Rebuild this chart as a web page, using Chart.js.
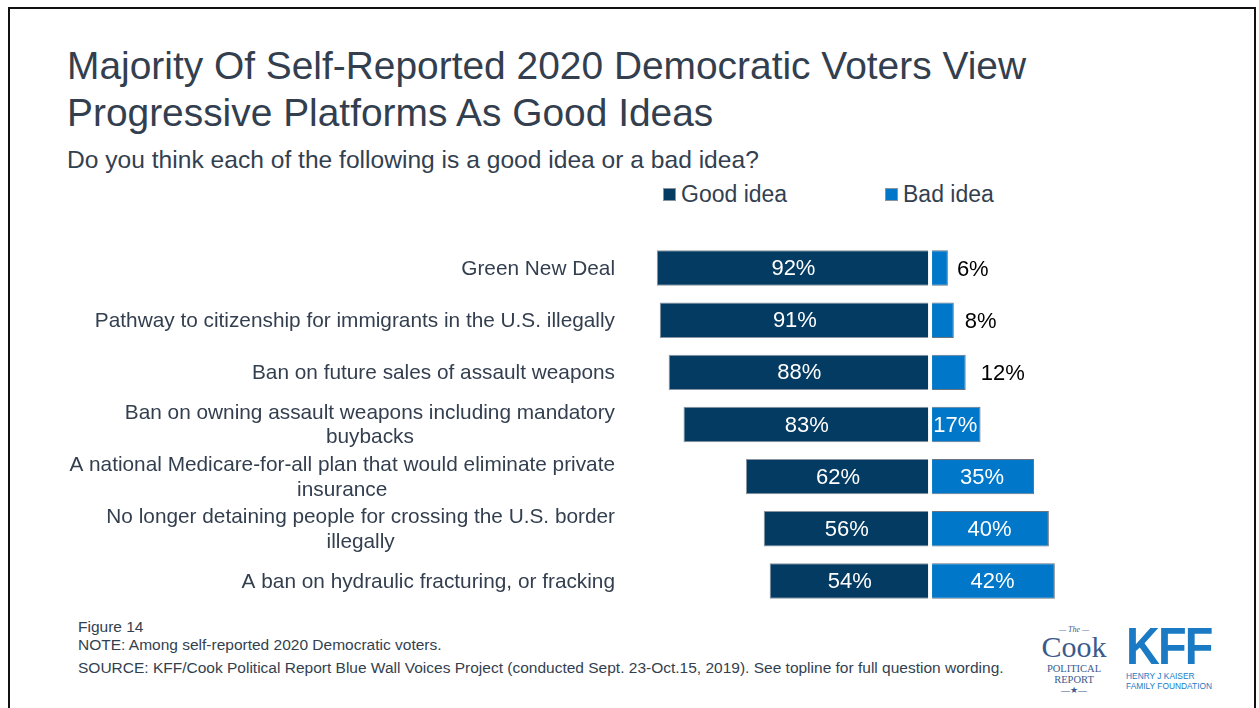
<!DOCTYPE html>
<html>
<head>
<meta charset="utf-8">
<script src="https://cdn.jsdelivr.net/npm/chart.js@4"></script>
<style>
  body { margin: 0; width: 1259px; height: 708px; background: #fff; overflow: hidden; font-family: "Liberation Sans", Arial, sans-serif; color: #333f4f; }
  .frame { position: absolute; left: 8px; top: 7px; width: 1248px; height: 760px; border: 2px solid #111; box-sizing: border-box; }
  .abs { position: absolute; white-space: nowrap; }
  #title { left: 67px; top: 42px; font-size: 38.9px; line-height: 47px; }
  #subtitle { left: 67px; top: 146px; font-size: 24.6px; }
  .legend { top: 181px; font-size: 23px; color: #333f4f; }
  .legend i { display: inline-block; width: 13px; height: 13px; margin-right: 5px; vertical-align: 1px; border: 1px solid #8a94a0; box-sizing: border-box; }
  .foot { left: 78px; font-size: 15.5px; color: #333f4f; }
  #cook { left: 1036px; top: 626px; width: 76px; text-align: center; color: #3d5a8c; font-family: "Liberation Serif", serif; }
  #kff { left: 1126px; top: 624px; color: #1a7bc4; }
  canvas { position: absolute; left: 0; top: 0; }
</style>
</head>
<body>
<div class="frame"></div>
<div class="abs" id="title">Majority Of Self-Reported 2020 Democratic Voters View<br>Progressive Platforms As Good Ideas</div>
<div class="abs" id="subtitle">Do you think each of the following is a good idea or a bad idea?</div>
<div class="abs legend" style="left:663px"><i style="background:#043b62"></i>Good idea</div>
<div class="abs legend" style="left:885px"><i style="background:#0077c8"></i>Bad idea</div>

<div class="abs foot" style="top:618px">Figure 14</div>
<div class="abs foot" style="top:636px">NOTE: Among self-reported 2020 Democratic voters.</div>
<div class="abs foot" style="top:659px">SOURCE: KFF/Cook Political Report Blue Wall Voices Project (conducted Sept. 23-Oct.15, 2019). See topline for full question wording.</div>

<div class="abs" id="cook">
  <div style="font-size:8px;font-style:italic;line-height:8px">&mdash; The &mdash;</div>
  <div style="font-size:30px;line-height:26px">Cook</div>
  <div style="font-size:10.5px;line-height:11px;margin-top:3px">POLITICAL</div>
  <div style="font-size:10.5px;line-height:11px">REPORT</div>
  <div style="font-size:9px;line-height:10px">&mdash;&#9733;&mdash;</div>
</div>
<div class="abs" id="kff">
  <div style="font-size:52px;font-weight:bold;line-height:44px;letter-spacing:-2px;transform:scaleX(0.9);transform-origin:left">KFF</div>
  <div style="font-size:9px;line-height:10px;margin-top:3px;transform:scaleX(0.93);transform-origin:left">HENRY J KAISER</div>
  <div style="font-size:9px;line-height:10px;transform:scaleX(0.93);transform-origin:left">FAMILY FOUNDATION</div>
</div>

<canvas id="chart" width="1259" height="708"></canvas>
<script>
// データ
const categories = [
  ["Green New Deal"],
  ["Pathway to citizenship for immigrants in the U.S. illegally"],
  ["Ban on future sales of assault weapons"],
  ["Ban on owning assault weapons including mandatory", "buybacks"],
  ["A national Medicare-for-all plan that would eliminate private", "insurance"],
  ["No longer detaining people for crossing the U.S. border", "illegally"],
  ["A ban on hydraulic fracturing, or fracking"]
];
const goodIdea = [92, 91, 88, 83, 62, 56, 54];
const badIdea = [6, 8, 12, 17, 35, 40, 42];

const FONT = '"Liberation Sans", Arial, sans-serif';

// ラベルとすき間を描く
const drawLabels = {
  id: 'drawLabels',
  afterDatasetsDraw(chart) {
    const ctx = chart.ctx;
    const x = chart.scales.x;
    const y = chart.scales.y;
    const zero = x.getPixelForValue(0);
    ctx.save();
    // 中央の白いすき間
    ctx.fillStyle = '#fff';
    ctx.fillRect(zero - 2, chart.chartArea.top, 4, chart.chartArea.bottom - chart.chartArea.top);

    ctx.font = '22px ' + FONT;
    ctx.textBaseline = 'middle';
    chart.data.datasets.forEach((ds, di) => {
      const meta = chart.getDatasetMeta(di);
      meta.data.forEach((bar, i) => {
        const v = Math.abs(ds.data[i]);
        const txt = v + '%';
        if (v >= 15) {
          ctx.fillStyle = '#fff';
          ctx.textAlign = 'center';
          ctx.fillText(txt, (bar.x + bar.base) / 2, bar.y + 1);
        } else {
          ctx.fillStyle = '#000';
          ctx.textAlign = 'left';
          ctx.fillText(txt, bar.x + 9 + (v - 6), bar.y + 2);
        }
      });
    });

    // カテゴリ名
    ctx.font = '20.8px ' + FONT;
    ctx.fillStyle = '#333f4f';
    ctx.textAlign = 'center';
    const right = 615;
    const lh = 24.5;
    categories.forEach((lines, i) => {
      const cy = y.getPixelForValue(i);
      const w = Math.max(...lines.map(l => ctx.measureText(l).width));
      const cx = right - w / 2;
      lines.forEach((l, k) => {
        ctx.fillText(l, cx, cy + (k - (lines.length - 1) / 2) * lh + 1);
      });
    });
    ctx.restore();
  }
};

var context = document.querySelector('#chart').getContext('2d');
new Chart(context, {
  type: 'bar',
  data: {
    labels: categories,
    datasets: [
      {
        label: 'Good idea',
        data: goodIdea.map(v => -v),
        backgroundColor: '#043b62',
        borderColor: '#8a94a0',
        borderWidth: 1,
        borderSkipped: false,
        barPercentage: 0.68,
        categoryPercentage: 1
      },
      {
        label: 'Bad idea',
        data: badIdea,
        backgroundColor: '#0077c8',
        borderColor: '#6b7582',
        borderWidth: 1,
        borderSkipped: false,
        barPercentage: 0.68,
        categoryPercentage: 1
      }
    ]
  },
  options: {
    indexAxis: 'y',
    responsive: false,
    animation: false,
    layout: { padding: { left: 633, top: 242, right: 121, bottom: 101 } },
    scales: {
      x: { stacked: true, min: -100, max: 70, display: false },
      y: { stacked: true, display: false }
    },
    plugins: {
      legend: { display: false },
      tooltip: { enabled: false }
    }
  },
  plugins: [drawLabels]
});
</script>
</body>
</html>
